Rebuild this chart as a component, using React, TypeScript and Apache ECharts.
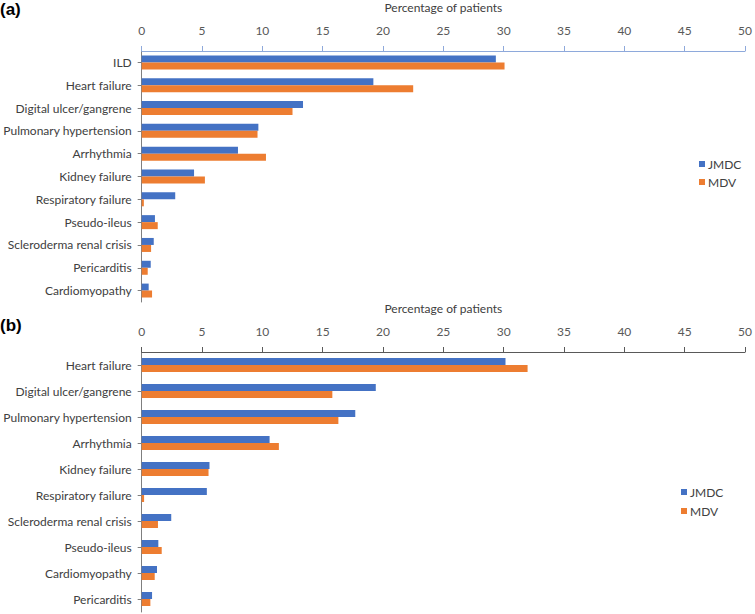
import React, { useEffect, useRef } from "react";
import * as echarts from "echarts";

const categoriesA = [
  "ILD",
  "Heart failure",
  "Digital ulcer/gangrene",
  "Pulmonary hypertension",
  "Arrhythmia",
  "Kidney failure",
  "Respiratory failure",
  "Pseudo-ileus",
  "Scleroderma renal crisis",
  "Pericarditis",
  "Cardiomyopathy",
];
const jmdcA = [29.35, 19.2, 13.37, 9.67, 7.98, 4.34, 2.78, 1.1, 1.0, 0.75, 0.58];
const mdvA = [30.07, 22.5, 12.5, 9.6, 10.3, 5.24, 0.18, 1.33, 0.78, 0.5, 0.86];

const categoriesB = [
  "Heart failure",
  "Digital ulcer/gangrene",
  "Pulmonary hypertension",
  "Arrhythmia",
  "Kidney failure",
  "Respiratory failure",
  "Scleroderma renal crisis",
  "Pseudo-ileus",
  "Cardiomyopathy",
  "Pericarditis",
];
const jmdcB = [30.15, 19.4, 17.7, 10.6, 5.62, 5.4, 2.45, 1.38, 1.27, 0.86];
const mdvB = [31.98, 15.8, 16.3, 11.37, 5.54, 0.2, 1.35, 1.66, 1.08, 0.72];

const seriesNames = ["JMDC", "MDV"];
const axisTitle = "Percentage of patients";
const panelLabels = ["(a)", "(b)"];

const BLUE = "#4472C4";
const ORANGE = "#ED7D31";
const FONT = "Lato";

export default function App() {
  const ref = useRef<HTMLDivElement>(null);

  useEffect(() => {
    if (!ref.current) return;
    const chart = echarts.init(ref.current, undefined, { renderer: "svg" });

    const xAxisBase = (gridIndex: number, lineColor: string) => ({
      gridIndex,
      type: "value",
      position: "top",
      min: 0,
      max: 50,
      interval: 5,
      name: axisTitle,
      nameLocation: "middle",
      nameGap: 38,
      nameTextStyle: { fontSize: 12, color: "#404040", fontFamily: FONT },
      axisLine: { show: true, lineStyle: { color: lineColor, width: 1 } },
      axisTick: { show: true, length: 5, lineStyle: { color: lineColor } },
      splitLine: { show: false },
      axisLabel: { fontSize: 12, color: "#595959", margin: 15, fontFamily: FONT },
    });

    const yAxisBase = (gridIndex: number, data: string[]) => ({
      gridIndex,
      type: "category",
      inverse: true,
      data,
      axisLine: { show: true, lineStyle: { color: "#7F7F7F" } },
      axisTick: { show: true, alignWithLabel: true, length: 4, lineStyle: { color: "#7F7F7F" } },
      axisLabel: { fontSize: 12, color: "#404040", margin: 10, fontFamily: FONT },
    });

    const barSeries = (name: string, data: number[], idx: number, color: string) => ({
      name,
      type: "bar",
      xAxisIndex: idx,
      yAxisIndex: idx,
      data,
      barWidth: 7,
      barGap: "0%",
      itemStyle: { color },
    });

    chart.setOption({
      animation: false,
      textStyle: { fontFamily: FONT },
      grid: [
        { left: 137, right: 8, top: 45, height: 257 },
        { left: 137, right: 8, top: 352, height: 260 },
      ],
      xAxis: [xAxisBase(0, "#8EA9DB"), xAxisBase(1, "#595959")],
      yAxis: [yAxisBase(0, categoriesA), yAxisBase(1, categoriesB)],
      legend: [
        {
          data: seriesNames,
          orient: "vertical",
          left: 694,
          top: 153,
          itemWidth: 6,
          itemHeight: 6,
          itemGap: 6,
          icon: "rect",
          textStyle: { fontSize: 12, color: "#404040", fontFamily: FONT, padding: [0, 0, 0, -2] },
        },
        {
          data: seriesNames,
          orient: "vertical",
          left: 676,
          top: 481,
          itemWidth: 6,
          itemHeight: 6,
          itemGap: 7,
          icon: "rect",
          textStyle: { fontSize: 12, color: "#404040", fontFamily: FONT, padding: [0, 0, 0, -2] },
        },
      ],
      graphic: [
        {
          type: "text",
          left: 0,
          top: 1,
          style: { text: panelLabels[0], font: "bold 17px Liberation Sans", fill: "#000" },
        },
        {
          type: "text",
          left: 0,
          top: 317,
          style: { text: panelLabels[1], font: "bold 17px Liberation Sans", fill: "#000" },
        },
      ],
      series: [
        barSeries(seriesNames[0], jmdcA, 0, BLUE),
        barSeries(seriesNames[1], mdvA, 0, ORANGE),
        barSeries(seriesNames[0], jmdcB, 1, BLUE),
        barSeries(seriesNames[1], mdvB, 1, ORANGE),
      ],
    });

    return () => chart.dispose();
  }, []);

  return (
    <div
      ref={ref}
      style={{ position: "absolute", left: 0, top: 0, width: 755, height: 614, background: "#fff" }}
    />
  );
}
